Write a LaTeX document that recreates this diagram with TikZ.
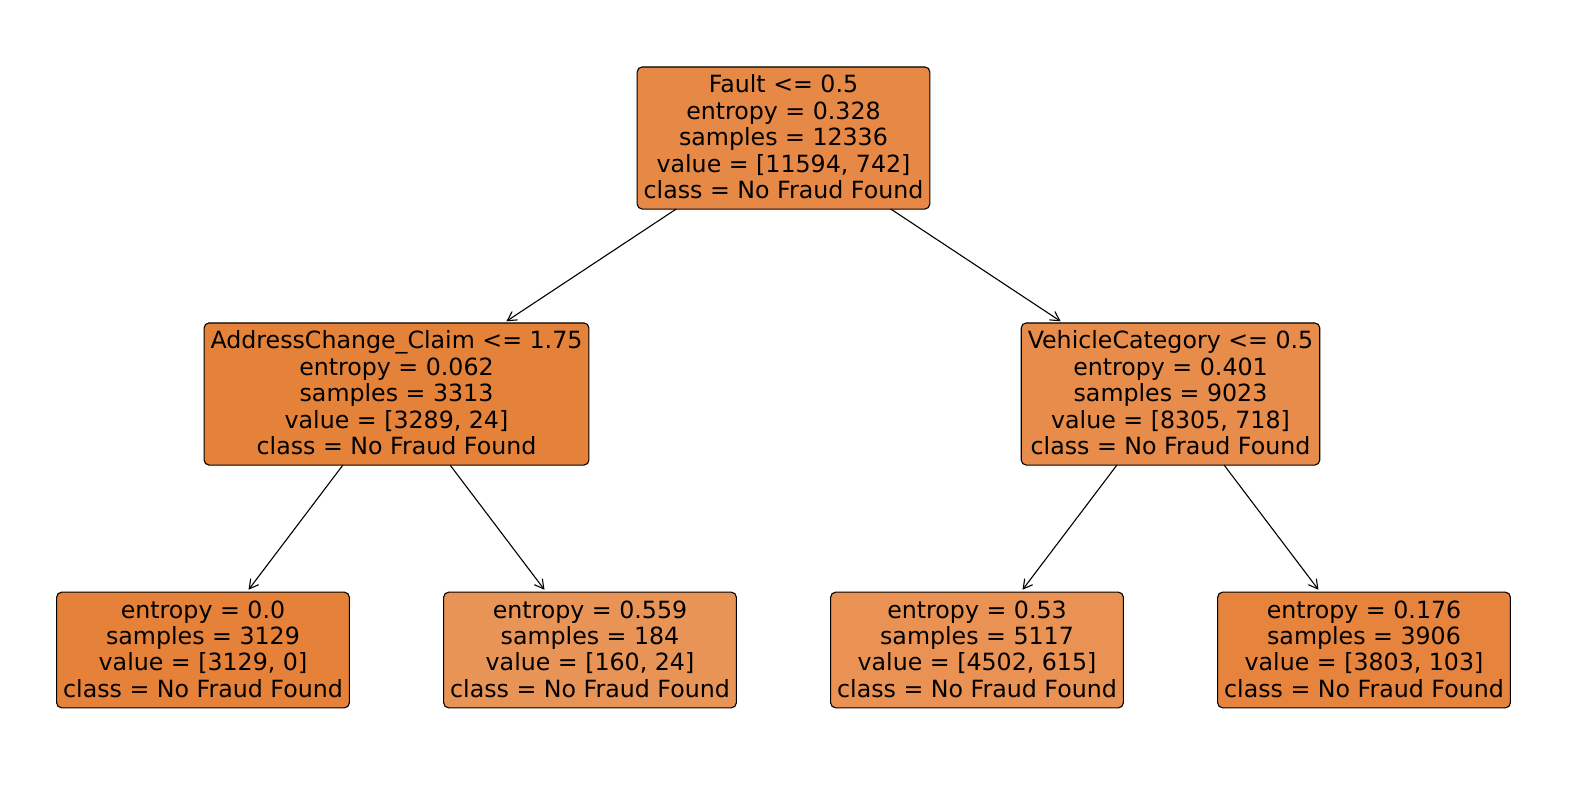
\documentclass[tikz,border=0pt]{standalone}
\usepackage{fontspec}
\setmainfont{DejaVu Sans}
\usetikzlibrary{arrows.meta}
\definecolor{cRoot}{RGB}{231,137,70}
\definecolor{cLm}{RGB}{229,130,58}
\definecolor{cRm}{RGB}{231,140,74}
\definecolor{cLa}{RGB}{229,129,57}
\definecolor{cLb}{RGB}{233,148,87}
\definecolor{cLc}{RGB}{233,146,84}
\definecolor{cLd}{RGB}{230,132,62}
\newcommand{\topstr}{\rule{0pt}{20.9pt}}
\newcommand{\botstr}{\rule[-5.4pt]{0pt}{5.4pt}}
\tikzset{
  treebox/.style={draw=black, line width=1.1pt, rounded corners=5pt, align=center,
    inner xsep=6.5pt, inner ysep=5.1pt, outer sep=0pt,
    font=\fontsize{23.7}{26.4}\selectfont},
  edge/.style={line width=1.1pt, -{Straight Barb[length=9pt,width=10pt,line width=1.1pt]}, shorten >=3pt}
}
\begin{document}
\begin{tikzpicture}[x=1pt,y=-1pt]
\useasboundingbox[fill=white] (0,0) rectangle (1570,790);
\node[treebox, fill=cRoot] (root) at (783.5,138) {\topstr Fault <= 0.5\\entropy = 0.328\\samples = 12336\\value = [11594, 742]\\class = No Fraud Found\botstr};
\node[treebox, fill=cLm] (lm) at (396.5,394) {\topstr AddressChange\_Claim <= 1.75\\entropy = 0.062\\samples = 3313\\value = [3289, 24]\\class = No Fraud Found\botstr};
\node[treebox, fill=cRm] (rm) at (1170.5,394) {\topstr VehicleCategory <= 0.5\\entropy = 0.401\\samples = 9023\\value = [8305, 718]\\class = No Fraud Found\botstr};
\node[treebox, fill=cLa] (la) at (203,650) {\topstr entropy = 0.0\\samples = 3129\\value = [3129, 0]\\class = No Fraud Found\botstr};
\node[treebox, fill=cLb] (lb) at (590,650) {\topstr entropy = 0.559\\samples = 184\\value = [160, 24]\\class = No Fraud Found\botstr};
\node[treebox, fill=cLc] (lc) at (977,650) {\topstr entropy = 0.53\\samples = 5117\\value = [4502, 615]\\class = No Fraud Found\botstr};
\node[treebox, fill=cLd] (ld) at (1364,650) {\topstr entropy = 0.176\\samples = 3906\\value = [3803, 103]\\class = No Fraud Found\botstr};
\draw[edge] (root) -- (lm);
\draw[edge] (root) -- (rm);
\draw[edge] (lm) -- (la);
\draw[edge] (lm) -- (lb);
\draw[edge] (rm) -- (lc);
\draw[edge] (rm) -- (ld);
\end{tikzpicture}
\end{document}
